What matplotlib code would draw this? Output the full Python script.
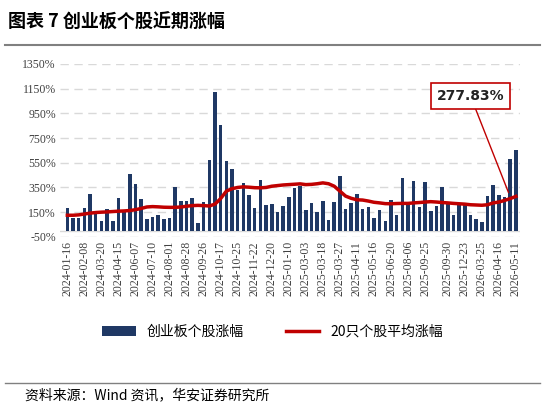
import numpy as np
import matplotlib
matplotlib.use("Agg")
import matplotlib.pyplot as plt
from matplotlib.ticker import FuncFormatter

cjk = ['Noto Sans CJK SC', 'DejaVu Sans']

stock_gain = [181, 101, 101, 187, 293, 139, 80, 173, 80, 267,
              160, 461, 379, 259, 96, 109, 125, 96, 101, 352,
              237, 237, 261, 64, 235, 576, 1123, 859, 565, 501,
              333, 384, 288, 187, 413, 211, 216, 149, 200, 272,
              344, 360, 165, 227, 149, 237, 85, 232, 445, 176,
              221, 293, 176, 189, 101, 171, 75, 251, 128, 424,
              211, 405, 189, 395, 160, 200, 357, 232, 131, 211,
              211, 128, 93, 69, 277, 373, 288, 272, 584, 653]
avg_gain = [125, 125, 128, 135, 142, 147, 150, 152, 155, 158,
            160, 163, 170, 180, 192, 195, 193, 190, 189, 189,
            192, 198, 203, 205, 203, 200, 215, 260, 320, 340,
            350, 355, 352, 348, 347, 350, 360, 365, 370, 373,
            376, 379, 373, 375, 380, 387, 380, 360, 320, 280,
            262, 250, 248, 240, 230, 225, 219, 218, 220, 221,
            221, 225, 228, 232, 235, 232, 228, 225, 221, 218,
            215, 210, 208, 206, 210, 225, 232, 245, 260, 277.83]
tick_labels = ['2024-01-16', '2024-02-08', '2024-03-20', '2024-04-15', '2024-06-07',
               '2024-07-10', '2024-08-01', '2024-08-28', '2024-09-26', '2024-10-17',
               '2024-10-25', '2024-11-22', '2024-12-20', '2025-01-10', '2025-03-03',
               '2025-03-18', '2025-03-27', '2025-04-11', '2025-05-16', '2025-06-20',
               '2025-08-06', '2025-09-25', '2025-09-30', '2025-12-23', '2026-03-25',
               '2026-04-16', '2026-05-11']

fig = plt.figure(figsize=(5.45, 4.07), dpi=100)
ax = fig.add_axes([0.11, 0.418, 0.845, 0.425])
x = np.arange(len(stock_gain))
bars = ax.bar(x, stock_gain, width=0.62, color='#1f3864', zorder=2)
line, = ax.plot(x, avg_gain, color='#c00000', lw=2.5, zorder=3)

ax.set_ylim(-50, 1350)
ax.set_yticks(np.arange(-50, 1351, 200))
ax.yaxis.set_major_formatter(FuncFormatter(lambda v, p: f'{v:.0f}%'))
ax.set_xlim(-1.3, len(x) - 0.2)
ticks = np.round(np.linspace(0, 78.6, len(tick_labels))).astype(int)
ax.set_xticks(ticks)
ax.set_xticklabels(tick_labels, rotation=90, family='Liberation Serif', fontsize=8.5, color='#404040')
for t in ax.get_yticklabels():
    t.set_family('Liberation Serif'); t.set_fontsize(8.5); t.set_color('#404040')
ax.tick_params(length=0, pad=3)
ax.grid(axis='y', ls=(0, (6, 4)), color='#d9d9d9', lw=1, zorder=0)
for s in ax.spines.values():
    s.set_visible(False)
ax.axhline(0, color='#d9d9d9', lw=1, zorder=1)

ax.annotate('277.83%', xy=(x[-1] - 1.3, avg_gain[-1] + 30), xytext=(x[-1] - 8, 1090),
            fontsize=10, fontweight='bold', ha='center', va='center', color='#222222',
            bbox=dict(boxstyle='square,pad=0.4', fc='white', ec='#c00000', lw=1.2),
            arrowprops=dict(arrowstyle='-', color='#c00000', lw=1, shrinkA=0, shrinkB=0))

fig.legend([bars, line], ['创业板个股涨幅', '20只个股平均涨幅'], loc='center',
           bbox_to_anchor=(0.5, 0.185), ncol=2, frameon=False,
           prop={'family': cjk, 'size': 10}, handlelength=2.4, columnspacing=3)

fig.text(0.015, 0.945, '图表 7 创业板个股近期涨幅', family=cjk, fontsize=13, fontweight='bold', va='center')
fig.add_artist(plt.Line2D([0.01, 0.99], [0.89, 0.89], color='#808080', lw=1.5))
fig.add_artist(plt.Line2D([0.01, 0.99], [0.059, 0.059], color='#808080', lw=1))
fig.text(0.045, 0.028, '资料来源：Wind 资讯，华安证券研究所', family=cjk, fontsize=10, va='center')

fig.savefig('out.png', dpi=100)
